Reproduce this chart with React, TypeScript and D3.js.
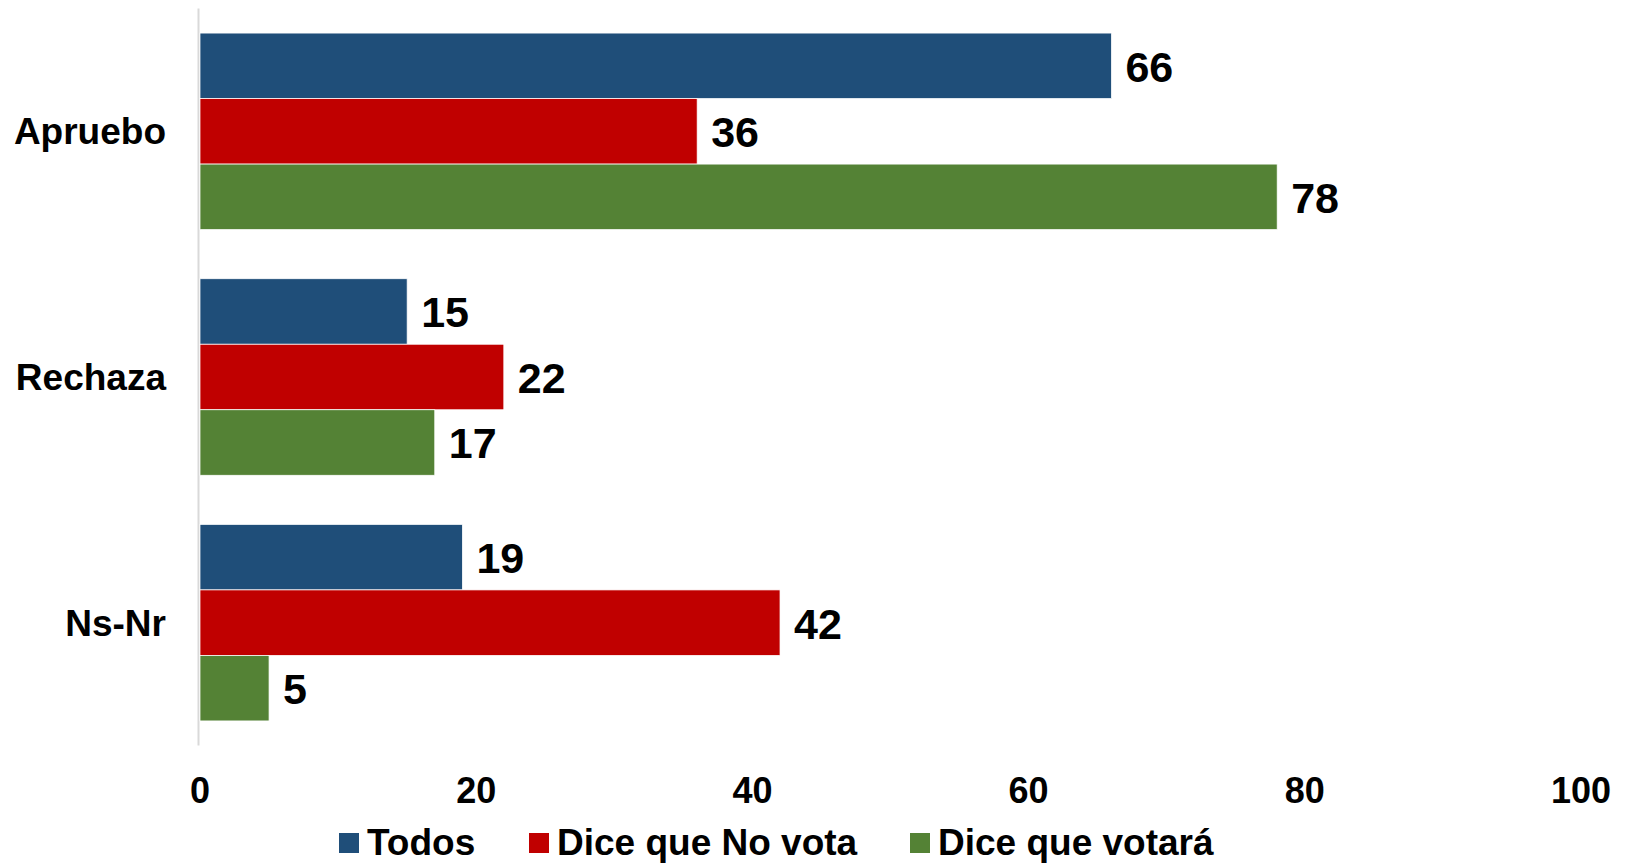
import React from "react";
import * as d3 from "d3";

const categories = ["Apruebo", "Rechaza", "Ns-Nr"];
const seriesNames = ["Todos", "Dice que No vota", "Dice que votará"];
const todos = [66, 15, 19];
const diceNoVota = [36, 22, 42];
const diceVotara = [78, 17, 5];
const xTicks = [0, 20, 40, 60, 80, 100];

const colors = ["#1F4E79", "#C00000", "#548235"];
const W = 1631;
const H = 864;
const FONT = "'Liberation Sans', Arial, Helvetica, sans-serif";

export default function App() {
  const seriesValues = [todos, diceNoVota, diceVotara];
  const x = d3.scaleLinear().domain([0, 100]).range([200, 1581]);
  const y = d3
    .scaleBand<string>()
    .domain(categories)
    .range([8.5, 745.5])
    .paddingInner(0.2)
    .paddingOuter(0.1);
  const ySub = d3
    .scaleBand<string>()
    .domain(seriesNames)
    .range([0, y.bandwidth()])
    .padding(0);

  const legendX = [339, 529, 910];

  return (
    <svg
      width={W}
      height={H}
      style={{ position: "absolute", left: 0, top: 0, background: "#fff" }}
      fontFamily={FONT}
      fontWeight="bold"
    >
      <rect x={0} y={0} width={W} height={H} fill="#ffffff" />
      {/* axis line */}
      <line x1={198.5} x2={198.5} y1={8.5} y2={745.5} stroke="#d9d9d9" strokeWidth={2} />
      {categories.map((c, ci) => (
        <g key={c}>
          <text
            x={166}
            y={(y(c) as number) + y.bandwidth() / 2}
            dy="0.35em"
            textAnchor="end"
            fontSize={37}
            fill="#000"
          >
            {c}
          </text>
          {seriesNames.map((s, si) => {
            const v = seriesValues[si][ci];
            const by = (y(c) as number) + (ySub(s) as number);
            const bh = ySub.bandwidth();
            return (
              <g key={s}>
                <rect
                  x={x(0)}
                  y={by}
                  width={x(v) - x(0)}
                  height={bh}
                  fill={colors[si]}
                  stroke="#ffffff"
                  strokeWidth={0.75}
                />
                <text
                  x={x(v) + 14}
                  y={by + bh / 2}
                  dy="0.37em"
                  fontSize={43}
                  fill="#000"
                >
                  {v}
                </text>
              </g>
            );
          })}
        </g>
      ))}
      {xTicks.map((t) => (
        <text key={t} x={x(t)} y={803} textAnchor="middle" fontSize={36} fill="#000">
          {t}
        </text>
      ))}
      {seriesNames.map((s, si) => (
        <g key={s}>
          <rect x={legendX[si]} y={833} width={20} height={20} fill={colors[si]} />
          <text x={legendX[si] + 28} y={855} fontSize={37} fill="#000">
            {s}
          </text>
        </g>
      ))}
    </svg>
  );
}
